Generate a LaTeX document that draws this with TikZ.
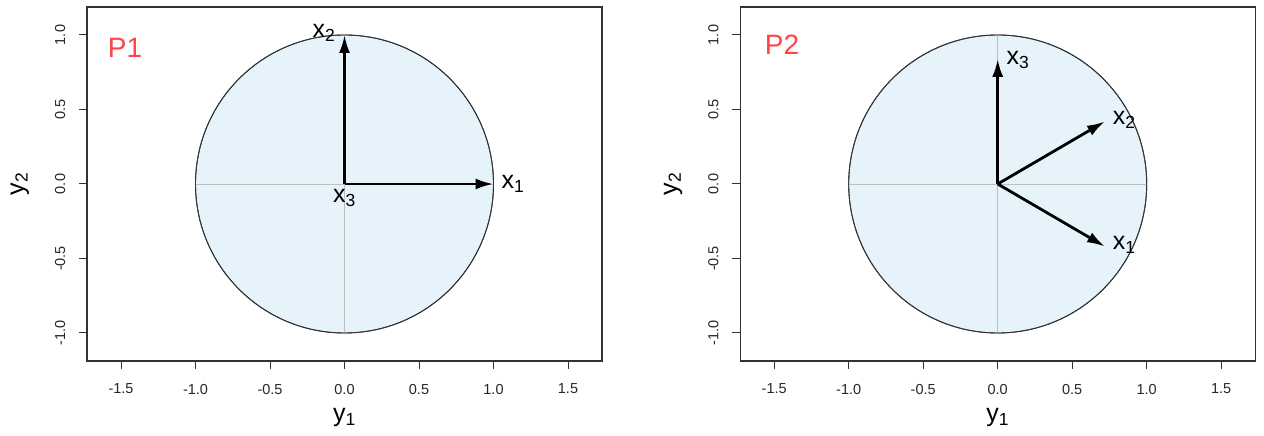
\documentclass[tikz,border=0pt]{standalone}
\usepackage{fontspec}
\setmainfont{Liberation Sans}
\usetikzlibrary{arrows.meta}

\definecolor{discfill}{HTML}{E6F3FA}
\definecolor{framegray}{HTML}{333333}
\definecolor{gridgray}{HTML}{BEBEBE}
\definecolor{panelred}{HTML}{FF4347}

\tikzset{
  panelbox/.style={draw=framegray, line width=1.1pt},
  tickmark/.style={draw=framegray, line width=1pt},
  ticklab/.style={inner sep=0pt, font=\fontsize{14.5}{16}\selectfont, text=black!85},
  axlab/.style={inner sep=0pt, font=\fontsize{25}{28}\selectfont},
  veclab/.style={inner sep=0pt, font=\fontsize{25}{28}\selectfont},
  vec/.style={line width=2.8pt, -{Latex[length=18pt,width=11pt]}},
  disc/.style={fill=discfill, draw=black!80, line width=0.9pt},
  cross/.style={draw=gridgray, line width=0.8pt},
  ptag/.style={inner sep=0pt, font=\fontsize{28}{30}\selectfont, text=panelred}
}

% frame, ticks, axis titles and the unit disc of one panel
\newcommand{\panelaxes}[1]{%
  \draw[panelbox] (-1.728,-1.188) rectangle (1.728,1.188);
  \foreach \t/\lab [count=\i] in {-1.5/-1.5,-1/-1.0,-0.5/-0.5,0/0.0,0.5/0.5,1/1.0,1.5/1.5}
    \draw[tickmark] (\t,-1.188) -- (\t,-1.242)
      node[ticklab] (#1-xt\i) at (\t,-1.376) {\lab};
  \foreach \t/\lab [count=\i] in {-1/-1.0,-0.5/-0.5,0/0.0,0.5/0.5,1/1.0}
    \draw[tickmark] (-1.728,\t) -- (-1.782,\t)
      node[ticklab, rotate=90] (#1-yt\i) at (-1.909,\t) {\lab};
  \node[axlab] (#1-ylab1) at (0,-1.570) {y\textsubscript{1}};
  \node[axlab, rotate=90] (#1-ylab2) at (-2.178,0) {y\textsubscript{2}};
  \draw[disc] (0,0) circle (1);
  \draw[cross] (-1,0) -- (1,0);
  \draw[cross] (0,-1) -- (0,1);
  \draw[black!80, line width=0.9pt] (0,0) circle (1);
  \coordinate (#1-o) at (0,0);
}

\begin{document}
\begin{tikzpicture}
  \useasboundingbox (0,0) rectangle (1264pt,436pt);

  % P1
  \begin{scope}[shift={(344.5pt,252pt)}, x=149pt, y=149pt]
    \panelaxes{L}
    \node[ptag] (L-tag) at (-1.473,0.913) {P1};
    \coordinate (L-t1) at (1,0);
    \coordinate (L-t2) at (0,1);
    \draw[vec] (L-o) -- (L-t1);
    \draw[vec] (L-o) -- (L-t2);
    \node[veclab] (L-x1) at (1.130,0) {x\textsubscript{1}};
    \node[veclab] (L-x2) at (-0.138,1.013) {x\textsubscript{2}};
    \node[veclab] (L-x3) at (0,-0.094) {x\textsubscript{3}};
  \end{scope}

  % P2
  \begin{scope}[shift={(997.7pt,252pt)}, x=149pt, y=149pt]
    \panelaxes{R}
    \node[ptag] (R-tag) at (-1.448,0.933) {P2};
    \coordinate (R-t1) at (0.72,-0.42);
    \coordinate (R-t2) at (0.72,0.42);
    \coordinate (R-t3) at (0,0.84);
    \draw[vec] (R-o) -- (R-t1);
    \draw[vec] (R-o) -- (R-t2);
    \draw[vec] (R-o) -- (R-t3);
    \node[veclab] (R-x1) at (0.850,-0.410) {x\textsubscript{1}};
    \node[veclab] (R-x2) at (0.850,0.430) {x\textsubscript{2}};
    \node[veclab] (R-x3) at (0.136,0.832) {x\textsubscript{3}};
  \end{scope}
\end{tikzpicture}
\end{document}
